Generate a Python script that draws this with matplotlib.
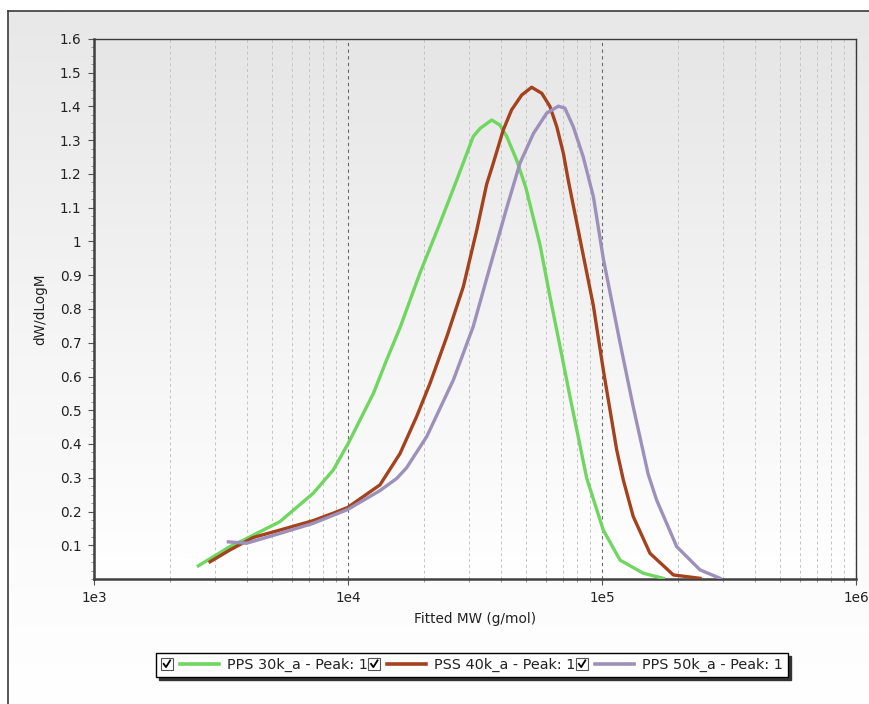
import numpy as np
import matplotlib
matplotlib.use('Agg')
import matplotlib.pyplot as plt
from matplotlib.lines import Line2D
from matplotlib.patches import Rectangle
from matplotlib.legend_handler import HandlerBase
from matplotlib.ticker import FixedLocator, FixedFormatter, MultipleLocator

# Molecular weight distributions
mw_30k = [2576, 3428, 3990, 5395, 7295, 8750, 10023, 12589, 14191, 16032, 19187,
          23014, 26792, 31117, 33113, 36813, 39628, 42170, 46132, 50119, 57016,
          62373, 68391, 74817, 87096, 101158, 117761, 145546, 174181]
w_30k = [0.039, 0.096, 0.12, 0.17, 0.254, 0.323, 0.402, 0.55, 0.649, 0.745, 0.906,
         1.054, 1.182, 1.311, 1.335, 1.36, 1.345, 1.311, 1.241, 1.16, 0.99,
         0.837, 0.688, 0.54, 0.298, 0.145, 0.056, 0.017, 0.002]

mw_40k = [2864, 3428, 4236, 5395, 7295, 8750, 9977, 13366, 16032, 18621, 21038,
          24491, 28445, 32137, 35156, 37325, 40832, 44055, 48306, 52845, 57943,
          62373, 66374, 70469, 73621, 84333, 92470, 101158, 114288, 121339,
          132739, 154525, 190985, 243220]
w_40k = [0.051, 0.086, 0.123, 0.145, 0.173, 0.195, 0.212, 0.279, 0.372, 0.481,
         0.58, 0.718, 0.866, 1.034, 1.17, 1.232, 1.33, 1.39, 1.434, 1.457, 1.439,
         1.40, 1.34, 1.261, 1.182, 0.96, 0.81, 0.62, 0.382, 0.293,
         0.185, 0.076, 0.012, 0.002]

mw_50k = [3381, 3990, 5395, 7295, 9977, 13366, 15560, 17022, 20417, 26002, 31117,
          36224, 42170, 47534, 53703, 60534, 67298, 71450, 77090, 84333, 92470,
          101158, 117761, 132739, 152055, 164059, 196789, 243220, 291743]
w_50k = [0.11, 0.106, 0.135, 0.165, 0.206, 0.262, 0.298, 0.330, 0.422, 0.59, 0.748,
         0.925, 1.10, 1.232, 1.32, 1.38, 1.401, 1.395, 1.34, 1.251, 1.133,
         0.95, 0.70, 0.51, 0.31, 0.234, 0.096, 0.027, 0.002]

labels = ['PPS 30k_a - Peak: 1', 'PSS 40k_a - Peak: 1', 'PPS 50k_a - Peak: 1']
colors = ['#6fd660', '#a3421c', '#9d90ba']
x_ticks = [1e3, 1e4, 1e5, 1e6]
x_tick_labels = ['1e3', '1e4', '1e5', '1e6']
y_ticks = [0.1, 0.2, 0.3, 0.4, 0.5, 0.6, 0.7, 0.8, 0.9, 1.0, 1.1, 1.2, 1.3, 1.4, 1.5, 1.6]
y_tick_labels = ['0.1', '0.2', '0.3', '0.4', '0.5', '0.6', '0.7', '0.8', '0.9', '1',
                 '1.1', '1.2', '1.3', '1.4', '1.5', '1.6']

plt.rcParams['font.family'] = ['DejaVu Sans']
FS = 9.8

W, H = 870, 704
fig = plt.figure(figsize=(W / 100, H / 100), dpi=100)
fig.patch.set_facecolor('white')

# outer panel with gray->white gradient
grad = np.linspace(0, 1, 256).reshape(-1, 1)
bg = fig.add_axes([8 / W, 0, 1 - 8 / W, 1 - 11 / H], zorder=0)
bg.imshow(grad, cmap=matplotlib.colors.LinearSegmentedColormap.from_list(
    'bgc', ['#e8e8e8', '#f6f6f6', '#ffffff']), aspect='auto', extent=[0, 1, 0, 1])
bg.set_xticks([])
bg.set_yticks([])
for s in ['bottom', 'right']:
    bg.spines[s].set_visible(False)
for s in ['top', 'left']:
    bg.spines[s].set_color('#3a3a3a')
    bg.spines[s].set_linewidth(1.2)

ax = fig.add_axes([94 / W, 1 - 579 / H, (856 - 94) / W, (579 - 39) / H], zorder=1)
ax.imshow(grad, cmap=matplotlib.colors.LinearSegmentedColormap.from_list(
    'pc', ['#e6e6e6', '#f3f3f3', '#ffffff']), aspect='auto',
    extent=[0, 1, 0, 1], transform=ax.transAxes, zorder=0)

for mw, w, c, lab in zip([mw_30k, mw_40k, mw_50k], [w_30k, w_40k, w_50k], colors, labels):
    ax.plot(mw, w, color=c, lw=2.4, label=lab, zorder=3, solid_joinstyle='round')

ax.set_xscale('log')
ax.set_xlim(1e3, 1e6)
ax.set_ylim(0, 1.6)

ax.xaxis.set_major_locator(FixedLocator(x_ticks))
ax.xaxis.set_major_formatter(FixedFormatter(x_tick_labels))
minor_x = [m * 10 ** e for e in range(3, 6) for m in range(2, 10)]
ax.xaxis.set_minor_locator(FixedLocator(minor_x))
ax.xaxis.set_minor_formatter(FixedFormatter([''] * len(minor_x)))
ax.yaxis.set_major_locator(FixedLocator(y_ticks))
ax.yaxis.set_major_formatter(FixedFormatter(y_tick_labels))
ax.yaxis.set_minor_locator(MultipleLocator(0.025))

ax.tick_params(which='major', direction='out', length=4, width=0.8, color='#555555',
               labelsize=FS, labelcolor='#222222', pad=5)
ax.tick_params(which='minor', direction='out', length=2.5, width=0.6, color='#888888')

ax.grid(which='minor', axis='x', ls=(0, (3, 3)), color='#c4c4c4', lw=0.7, zorder=1)
ax.grid(which='major', axis='x', ls=(0, (3, 3)), color='#6a6a6a', lw=0.8, zorder=1)

for s in ['top', 'right']:
    ax.spines[s].set_color('#3a3a3a')
    ax.spines[s].set_linewidth(1.0)
for s in ['left', 'bottom']:
    ax.spines[s].set_color('#404040')
    ax.spines[s].set_linewidth(1.8)

ax.set_xlabel('Fitted MW (g/mol)', fontsize=FS, color='#222222', labelpad=5)
ax.set_ylabel('dW/dLogM', fontsize=FS, color='#222222', labelpad=9)


class CheckHandler(HandlerBase):
    # checkbox + line sample, like the legend in the screenshot
    def create_artists(self, legend, orig_handle, xdescent, ydescent, width, height,
                       fontsize, trans):
        s = height * 1.15
        y0 = -ydescent + height / 2 - s / 2
        x0 = -xdescent
        box = Rectangle((x0, y0), s, s, facecolor='white', edgecolor='#555555',
                        lw=0.8, transform=trans)
        tick = Line2D([x0 + 0.22 * s, x0 + 0.42 * s, x0 + 0.78 * s],
                      [y0 + 0.5 * s, y0 + 0.22 * s, y0 + 0.8 * s],
                      color='black', lw=1.3, transform=trans)
        ym = -ydescent + height / 2
        line = Line2D([x0 + s + 0.12 * width, x0 + width], [ym, ym],
                      color=orig_handle.get_color(), lw=2.6, transform=trans)
        return [box, tick, line]


handles, labs = ax.get_legend_handles_labels()
leg = fig.legend(handles, labs, loc='center', bbox_to_anchor=(472 / W, 1 - 665 / H),
                 ncol=3, handler_map={Line2D: CheckHandler()}, handlelength=4.0,
                 handletextpad=0.55, columnspacing=0.05, fontsize=10.4,
                 fancybox=False, shadow={'color': '#333333', 'alpha': 1.0},
                 edgecolor='black', framealpha=1.0, borderpad=0.35, borderaxespad=0)
leg.get_frame().set_linewidth(1.0)
for t in leg.get_texts():
    t.set_color('#222222')

fig.savefig('out.png', dpi=100)
